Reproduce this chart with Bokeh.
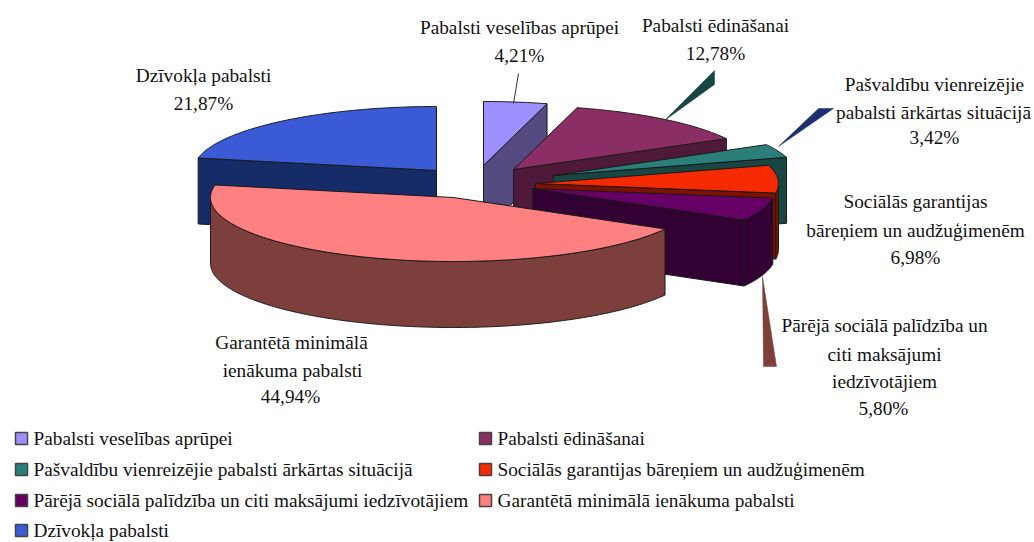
import numpy as np
from bokeh.plotting import figure
from bokeh.models import ColumnDataSource, Range1d
from bokeh.core.properties import value
from bokeh.embed import file_html
from bokeh.resources import INLINE

categories = ["Pabalsti veselības aprūpei", "Pabalsti ēdināšanai",
              "Pašvaldību vienreizējie pabalsti ārkārtas situācijā",
              "Sociālās garantijas bāreņiem un audžuģimenēm",
              "Pārējā sociālā palīdzība un citi maksājumi iedzīvotājiem",
              "Garantētā minimālā ienākuma pabalsti", "Dzīvokļa pabalsti"]
shares = [4.21, 12.78, 3.42, 6.98, 5.80, 44.94, 21.87]
top_colors = ["#9E8FFF", "#8B2E66", "#2A7F7A", "#F52A00", "#660066", "#FF8080", "#3A5AD6"]
side_colors = ["#544A80", "#4F1A3A", "#174643", "#801000", "#330033", "#7C3F3C", "#152C68"]
# exploded apex of every slice, in page pixels
apex_x = [483, 513, 553, 535, 532, 453, 436]
apex_y = [165, 169, 175, 183, 188, 197, 170]
draw_order = [0, 1, 2, 3, 4, 6, 5]
RX, RY, DEPTH = 243, 64, 66

labels = [
    ("Pabalsti veselības aprūpei", 519, 27), ("4,21%", 519, 55),
    ("Pabalsti ēdināšanai", 715, 25), ("12,78%", 715, 53),
    ("Pašvaldību vienreizējie", 934, 84), ("pabalsti ārkārtas situācijā", 933, 112), ("3,42%", 934, 137),
    ("Sociālās garantijas", 915, 201), ("bāreņiem un audžuģimenēm", 915, 230), ("6,98%", 915, 257),
    ("Pārējā sociālā palīdzība un", 884, 325), ("citi maksājumi", 884, 354),
    ("iedzīvotājiem", 884, 381), ("5,80%", 883, 408),
    ("Garantētā minimālā", 291, 342), ("ienākuma pabalsti", 292, 370), ("44,94%", 290, 396),
    ("Dzīvokļa pabalsti", 203, 75), ("21,87%", 203, 103),
]
legend_x = [15, 479, 15, 479, 15, 479, 15]
legend_y = [438, 438, 469, 469, 500, 500, 530]
# tapered leader shapes, in page pixels: xs, ys, colour
leaders = [
    ([664, 714, 714], [120, 70, 84], "#174643"),
    ([778, 818, 833], [146, 108, 108], "#1C2F70"),
    ([762, 763, 776], [276, 366, 366], "#7C3F3C"),
]

W, H = 1034, 542
p = figure(width=W, height=H, output_backend="svg", toolbar_location=None,
           x_range=Range1d(0, W), y_range=Range1d(H, 0),
           min_border=0, outline_line_color=None, background_fill_color="white",
           border_fill_color="white")
p.axis.visible = False
p.grid.visible = False


def arc(cx, cy, a, b, dy=0.0):
    t = np.radians(np.linspace(a, b, max(int(abs(b - a) * 2), 2)))
    return cx + RX * np.sin(t), cy - RY * np.cos(t) + dy


edges = np.concatenate([[0], np.cumsum(shares)]) / sum(shares) * 360
EDGE = "#1a1a1a"


def shape(xs, ys, color):
    p.patch(list(xs), list(ys), fill_color=color, line_color=EDGE, line_width=1)


for i in draw_order:
    a, b = edges[i], edges[i + 1]
    cx, cy = apex_x[i], apex_y[i]
    dark, light = side_colors[i], top_colors[i]
    if 0 < b < 180:  # clockwise cut face looks at the viewer
        ex, ey = arc(cx, cy, b, b + 1)
        shape([cx, ex[0], ex[0], cx], [cy, ey[0], ey[0] + DEPTH, cy + DEPTH], dark)
    if 180 < a < 360:  # counter-clockwise cut face looks at the viewer
        ex, ey = arc(cx, cy, a, a + 1)
        shape([cx, ex[0], ex[0], cx], [cy, ey[0], ey[0] + DEPTH, cy + DEPTH], dark)
    w0, w1 = max(a, 90), min(b, 270)
    if w1 > w0:  # outer wall
        x0, y0 = arc(cx, cy, w0, w1)
        shape(np.r_[x0, x0[::-1]], np.r_[y0, y0[::-1] + DEPTH], dark)
    xt, yt = arc(cx, cy, a, b)
    shape(np.r_[cx, xt], np.r_[cy, yt], light)

for xs, ys, c in leaders:
    p.patch(xs, ys, fill_color=c, line_color=c, line_width=0.5)
p.line([513, 518], [103, 73], line_color="#333333", line_width=1)

font = value("Liberation Serif")
size = value("19.3px")
src = ColumnDataSource(dict(t=[l[0] for l in labels], x=[l[1] for l in labels], y=[l[2] for l in labels]))
p.text("x", "y", text="t", source=src, text_font=font, text_font_size=size, text_color="#111111",
       text_align="center", text_baseline="middle")

leg = ColumnDataSource(dict(x=legend_x, y=legend_y, c=top_colors, t=categories,
                            sx=[v + 6 for v in legend_x], tx=[v + 18 for v in legend_x]))
p.scatter("sx", "y", source=leg, size=12, marker="square", fill_color="c",
          line_color="#444444", line_width=1.5)
p.text("tx", "y", text="t", source=leg, text_font=font, text_font_size=size, text_color="#111111",
       text_align="left", text_baseline="middle")

open("out.html", "w").write(file_html(p, INLINE))
